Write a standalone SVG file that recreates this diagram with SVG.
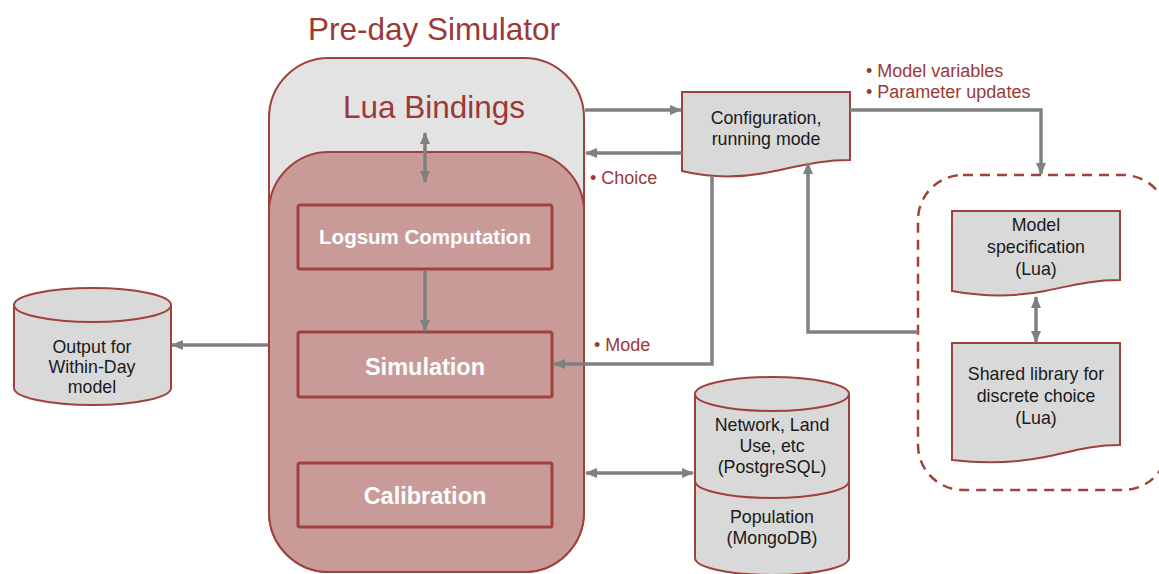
<svg xmlns="http://www.w3.org/2000/svg" width="1159" height="574" viewBox="0 0 1159 574">
<style>
.red{fill:#9b3935;font-family:"Liberation Sans",Arial,sans-serif}
.blk{fill:#1a1a1a;font-family:"Liberation Sans",Arial,sans-serif;font-size:17.8px;text-anchor:middle}
.wht{fill:#ffffff;font-family:"Liberation Sans",Arial,sans-serif;font-weight:bold;text-anchor:middle}
.box{fill:#c99b98;stroke:#a0413c;stroke-width:3}
.doc{fill:#d9d9d9;stroke:#a0413c;stroke-width:2}
.con{fill:none;stroke:#808080;stroke-width:3.5}
</style>
<defs>
<marker id="ah" markerWidth="12" markerHeight="10" refX="11" refY="5" orient="auto-start-reverse" markerUnits="userSpaceOnUse">
<path d="M0,0 L12,5 L0,10 Z" fill="#808080"/>
</marker>
</defs>
<text class="red" x="434" y="40" font-size="31.5" text-anchor="middle">Pre-day Simulator</text>
<g id="lua-bindings">
<rect x="269" y="58" width="315" height="514" rx="60" fill="#e3e3e3" stroke="#a0413c" stroke-width="2"/>
<text class="red" x="434" y="118" font-size="31.5" text-anchor="middle">Lua Bindings</text>
</g>
<g id="core">
<rect x="269" y="152" width="315" height="420" rx="60" fill="#c99b98" stroke="#a0413c" stroke-width="2"/>
</g>
<g id="logsum">
<rect class="box" x="298" y="205" width="254" height="64" rx="2"/>
<text class="wht" x="425" y="244" font-size="20.5">Logsum Computation</text>
</g>
<g id="simulation">
<rect class="box" x="298" y="332" width="254" height="65" rx="2"/>
<text class="wht" x="425" y="375" font-size="23.5">Simulation</text>
</g>
<g id="calibration">
<rect class="box" x="298" y="463" width="254" height="64" rx="2"/>
<text class="wht" x="425" y="504" font-size="23.5">Calibration</text>
</g>
<g id="output">
<path d="M14,305 V388 A78,17 0 0 0 171,388 V305" fill="#d9d9d9" stroke="#a0413c" stroke-width="2"/>
<ellipse cx="92.5" cy="305" rx="78.5" ry="17" fill="#d9d9d9" stroke="#a0413c" stroke-width="2"/>
<text class="blk" x="92" y="353">Output for</text>
<text class="blk" x="92" y="373">Within-Day</text>
<text class="blk" x="92" y="393">model</text>
</g>
<g id="config">
<path class="doc" d="M682,92 H850 V160 C820,160 800,166 770,172 C740,178 710,178 682,171 Z"/>
<text class="blk" x="766" y="124" font-size="19">Configuration,</text>
<text class="blk" x="766" y="145" font-size="19">running mode</text>
</g>
<g id="database">
<path d="M695,394 V558 A77,17 0 0 0 849,558 V394" fill="#d9d9d9" stroke="#a0413c" stroke-width="2"/>
<ellipse cx="772" cy="394" rx="77" ry="17" fill="#d9d9d9" stroke="#a0413c" stroke-width="2"/>
<path d="M695,481 A77,17 0 0 0 849,481" fill="none" stroke="#a0413c" stroke-width="2"/>
<text class="blk" x="772" y="431">Network, Land</text>
<text class="blk" x="772" y="452">Use, etc</text>
<text class="blk" x="772" y="473">(PostgreSQL)</text>
<text class="blk" x="772" y="523">Population</text>
<text class="blk" x="772" y="544">(MongoDB)</text>
</g>
<g id="lua-package">
<rect x="918" y="175" width="250" height="315" rx="45" fill="none" stroke="#a0413c" stroke-width="2.5" stroke-dasharray="10,7"/>
</g>
<g id="model-spec">
<path class="doc" d="M952,211 H1120 V280 C1090,280 1070,286 1045,291 C1015,297 985,297 952,291 Z"/>
<text class="blk" x="1036" y="231">Model</text>
<text class="blk" x="1036" y="253">specification</text>
<text class="blk" x="1036" y="275">(Lua)</text>
</g>
<g id="shared-lib">
<path class="doc" d="M952,343 H1120 V445 C1090,445 1070,452 1045,457 C1015,463 985,464 952,460 Z"/>
<text class="blk" x="1036" y="380">Shared library for</text>
<text class="blk" x="1036" y="402">discrete choice</text>
<text class="blk" x="1036" y="424">(Lua)</text>
</g>
<g id="connectors">
<line class="con" x1="425" y1="133" x2="425" y2="182" marker-start="url(#ah)" marker-end="url(#ah)"/>
<line class="con" x1="425" y1="270" x2="425" y2="331" marker-end="url(#ah)"/>
<line class="con" x1="268" y1="345" x2="172" y2="345" marker-end="url(#ah)"/>
<line class="con" x1="585" y1="110" x2="681" y2="110" marker-end="url(#ah)"/>
<line class="con" x1="682" y1="153" x2="586" y2="153" marker-end="url(#ah)"/>
<polyline class="con" points="850,110 1041,110 1041,174" marker-end="url(#ah)"/>
<polyline class="con" points="918,332 808,332 808,163" marker-end="url(#ah)"/>
<polyline class="con" points="712,176 712,364 554,364" marker-end="url(#ah)"/>
<line class="con" x1="586" y1="473" x2="693" y2="473" marker-start="url(#ah)" marker-end="url(#ah)"/>
<line class="con" x1="1036" y1="297" x2="1036" y2="342" marker-start="url(#ah)" marker-end="url(#ah)"/>
</g>
<g id="labels">
<text class="red" x="590" y="184" font-size="18">• Choice</text>
<text class="red" x="594" y="351" font-size="18">• Mode</text>
<text class="red" x="866" y="77" font-size="18">• Model variables</text>
<text class="red" x="866" y="98" font-size="18">• Parameter updates</text>
</g>
</svg>
